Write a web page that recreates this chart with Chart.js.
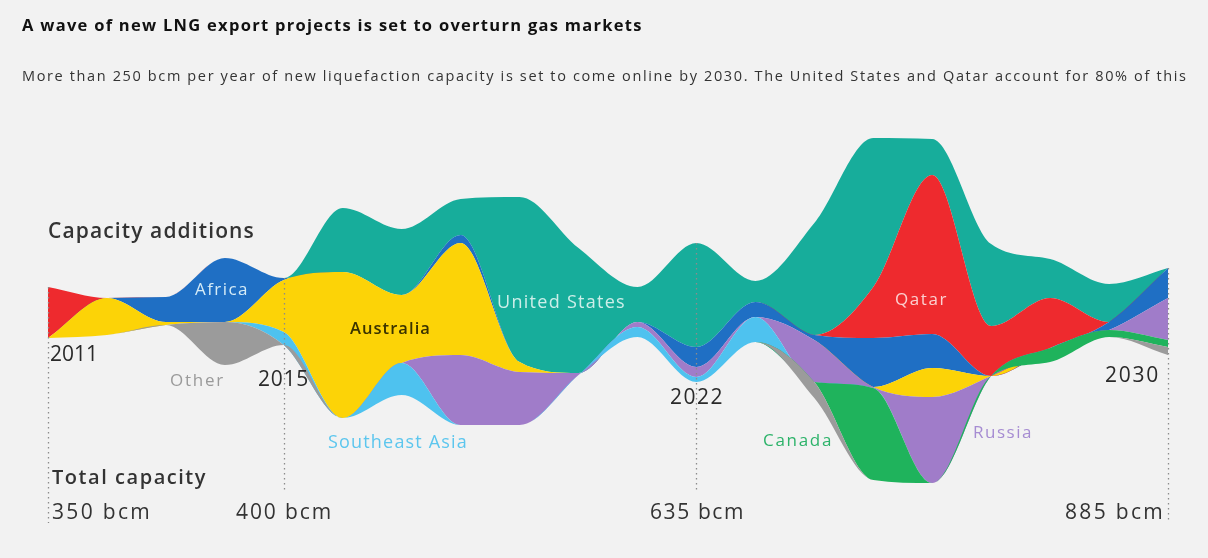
<!DOCTYPE html>
<html><head><meta charset="utf-8">
<script src="https://cdn.jsdelivr.net/npm/chart.js@4.4.1/dist/chart.umd.min.js"></script>
<style>
html,body{margin:0;padding:0;background:#f2f2f2;}
#wrap{position:relative;width:1208px;height:558px;overflow:hidden;background:#f2f2f2;font-family:"Open Sans","Liberation Sans",sans-serif;}
canvas{position:absolute;left:0;top:0;}
.t{position:absolute;white-space:nowrap;line-height:1;}
</style></head><body>
<div id="wrap">
<canvas id="c" width="1208" height="558"></canvas>
<div class="t" data-w="621" style="left:22px;top:17px;font-size:16.5px;font-weight:700;color:#111;">A wave of new LNG export projects is set to overturn gas markets</div>
<div class="t" data-w="1166" style="left:22px;top:69px;font-size:14.5px;color:#333;">More than 250 bcm per year of new liquefaction capacity is set to come online by 2030. The United States and Qatar account for 80% of this</div>
<div class="t" data-w="207" style="left:48px;top:220px;font-size:21px;font-weight:600;color:#333;">Capacity additions</div>
<div class="t" data-w="155" style="left:52px;top:467px;font-size:20px;font-weight:600;color:#333;">Total capacity</div>
<div class="t" data-w="100" style="left:52px;top:501px;font-size:21px;color:#333;">350 bcm</div>
<div class="t" data-w="97" style="left:236px;top:501px;font-size:21px;color:#333;">400 bcm</div>
<div class="t" data-w="95" style="left:650px;top:501px;font-size:21px;color:#333;">635 bcm</div>
<div class="t" data-w="100" style="left:1065px;top:501px;font-size:21px;color:#333;">885 bcm</div>
<div class="t" data-w="48" style="left:50px;top:343px;font-size:21px;color:#2a2a2a;">2011</div>
<div class="t" data-w="51" style="left:258px;top:368px;font-size:21px;color:#2a2a2a;">2015</div>
<div class="t" data-w="54" style="left:670px;top:386px;font-size:21px;color:#2a2a2a;">2022</div>
<div class="t" data-w="55" style="left:1105px;top:364px;font-size:21px;color:#2a2a2a;">2030</div>
<div class="t" data-w="55" style="left:170px;top:371px;font-size:17px;color:#9a9a9a;">Other</div>
<div class="t" data-w="54" style="left:195px;top:280px;font-size:17px;color:#d6ecf7;">Africa</div>
<div class="t" data-w="81" style="left:350px;top:320px;font-size:16.5px;font-weight:600;color:#3a3300;">Australia</div>
<div class="t" data-w="129" style="left:497px;top:292px;font-size:18px;color:#cdeee9;">United States</div>
<div class="t" data-w="140" style="left:328px;top:432px;font-size:18px;color:#5cc6ee;">Southeast Asia</div>
<div class="t" data-w="53" style="left:895px;top:290px;font-size:17px;color:#fbd0d0;">Qatar</div>
<div class="t" data-w="70" style="left:763px;top:431px;font-size:17px;color:#2db36a;">Canada</div>
<div class="t" data-w="60" style="left:973px;top:423px;font-size:17px;color:#a68cd2;">Russia</div>
</div>
<script>
const years = [2011,2012,2013,2014,2015,2016,2017,2018,2019,2020,2021,2022,2023,2024,2025,2026,2027,2028,2029,2030];
// stream offset (bottom edge of the stream)
const baseline     = [32.4,33.0,35.0,27.0,31.0,16.4,21.0,15.0,15.0,25.0,32.6,23.6,31.6,20.4,4.0,3.4,24.8,27.6,32.6,29.0];
const other        = [0,0,0,8.6,0,0,0,0,0,0,0,0,0,3.2,0,0,0,0,0,1.6];
const canada       = [0,0,0,0,0,0,0,0,0,0,0,0,0,0,18.4,0,0,2.8,1.4,1.4];
const southeastAsia= [0,0,0,0,2.6,0,6.4,0,0,0,2.0,1.0,5.0,0,0,0,0,0,0,0];
const russia       = [0,0,0,0,0,0,0,14.0,10.6,0.4,1.0,2.0,0,8.4,0.2,17.2,0,0,0,8.4];
const australia    = [0,7.4,0.6,0,10.4,29.2,13.6,22.4,2.0,0,0,0,0,0,0,5.8,0,0,0,0];
const africa       = [0,0,5.0,12.8,0.4,0,0,1.6,0,0,0,4.0,3.0,1.0,9.8,6.8,0,0,1.6,6.0];
const qatar        = [10.2,0,0,0,0,0,0,0,0,0,0,0,0,0,10.2,31.8,10.0,10.0,0,0];
const unitedStates = [0,0,0,0,0,12.8,13.2,7.2,33.0,25.0,7.0,20.8,4.2,22.4,29.8,7.2,16.4,7.8,7.6,0];
const markerYears  = [2011,2015,2022,2030];
const markerBottom = [523,492,492,523];

const layers = [
  {label:'Other', data:other, color:'#9b9b9b'},
  {label:'Canada', data:canada, color:'#1fb35c'},
  {label:'Southeast Asia', data:southeastAsia, color:'#4ec2ef'},
  {label:'Russia', data:russia, color:'#a07cc9'},
  {label:'Australia', data:australia, color:'#fcd307'},
  {label:'Africa', data:africa, color:'#1f6fc4'},
  {label:'Qatar', data:qatar, color:'#ee2a2e'},
  {label:'United States', data:unitedStates, color:'#17ad9b'}
];
const datasets = [{label:'base', data:baseline, fill:false, borderWidth:0, borderColor:'rgba(0,0,0,0)', backgroundColor:'rgba(0,0,0,0)', pointRadius:0, cubicInterpolationMode:'monotone'}];
layers.forEach(l=>datasets.push({label:l.label, data:l.data, fill:'-1', backgroundColor:l.color, borderColor:'rgba(0,0,0,0)', borderWidth:0, pointRadius:0, cubicInterpolationMode:'monotone'}));

const markers = {
  id:'markers',
  afterDatasetsDraw(chart){
    const ctx = chart.ctx, xs = chart.scales.x, ys = chart.scales.y;
    ctx.save();
    ctx.strokeStyle = '#8c8c8c'; ctx.lineWidth = 1.3; ctx.setLineDash([1.5,3.5]);
    markerYears.forEach((yr,k)=>{
      const i = years.indexOf(yr);
      let top = baseline[i]; layers.forEach(l=>top += l.data[i]);
      const x = Math.round(xs.getPixelForValue(i)) + 0.5;
      ctx.beginPath(); ctx.moveTo(x, ys.getPixelForValue(top)); ctx.lineTo(x, markerBottom[k]); ctx.stroke();
    });
    ctx.restore();
  }
};

new Chart(document.getElementById('c'), {
  type:'line',
  data:{labels:years, datasets},
  options:{
    responsive:false, animation:false, devicePixelRatio:1,
    layout:{padding:{left:48,right:40,top:100,bottom:58}},
    plugins:{legend:{display:false}, tooltip:{enabled:false}},
    scales:{
      x:{display:false, offset:false},
      y:{display:false, stacked:true, min:0, max:80}
    }
  },
  plugins:[markers]
});

document.querySelectorAll('.t[data-w]').forEach(el=>{
  const target = +el.dataset.w;
  const n = el.textContent.length;
  const w = el.getBoundingClientRect().width;
  el.style.letterSpacing = ((target - w)/n).toFixed(2)+'px';
});
</script>
</body></html>
